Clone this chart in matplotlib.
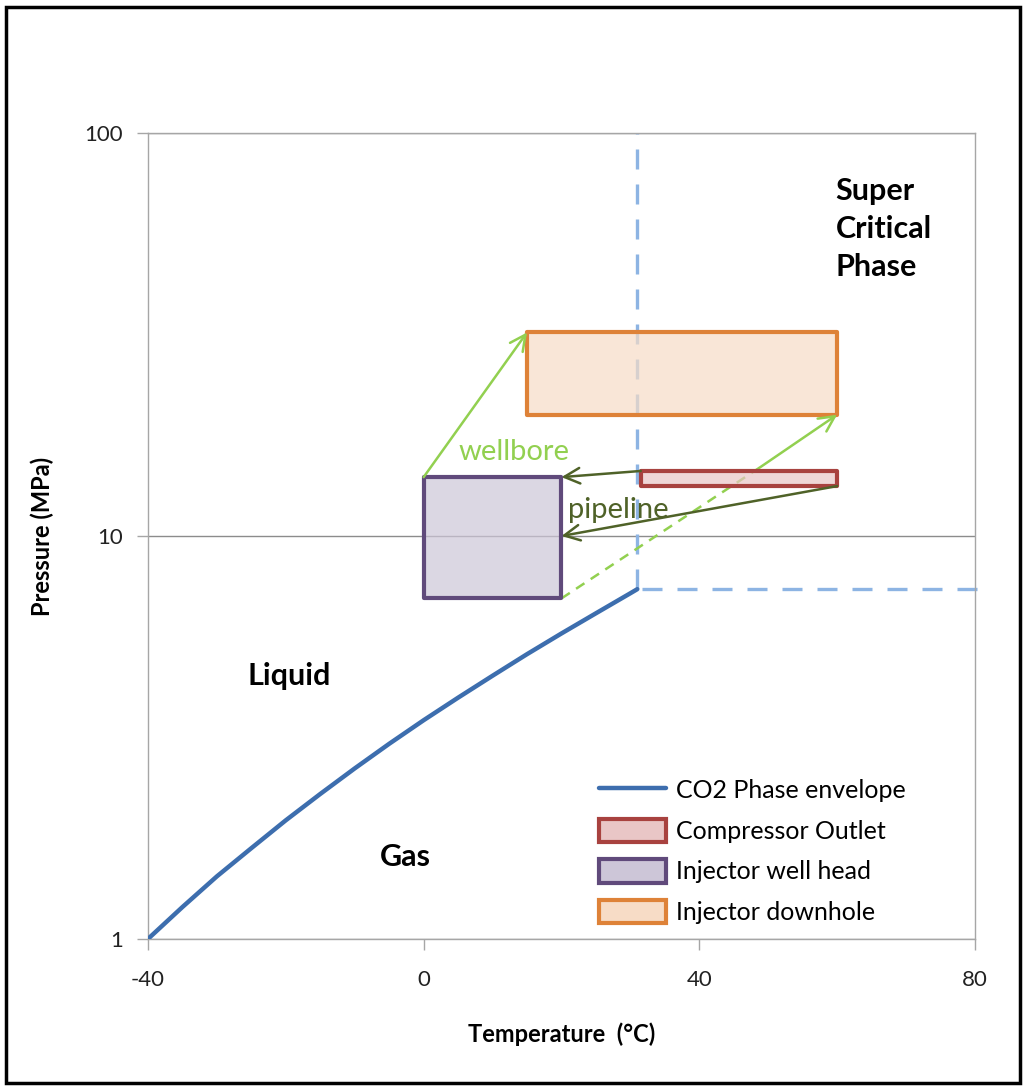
import matplotlib
matplotlib.use('Agg')
import matplotlib.pyplot as plt
from matplotlib.patches import Rectangle

plt.rcParams['font.family'] = ['Lato', 'DejaVu Sans']

# CO2 saturation curve up to the critical point
env_temp = [-40, -35, -30, -25, -20, -15, -10, -5, 0, 5, 10, 15, 20, 25, 30, 31]
env_pres = [1.0, 1.20, 1.43, 1.68, 1.97, 2.29, 2.65, 3.05, 3.49, 3.97, 4.50, 5.09, 5.73,
            6.43, 7.21, 7.38]
crit_temp = 31
crit_pres = 7.38

# operating windows: (T_min, T_max), (P_min, P_max)
box_names = ['Compressor Outlet', 'Injector well head', 'Injector downhole']
box_temp = [(31.5, 60), (0, 20), (15, 60)]
box_pres = [(13.3, 14.5), (7.0, 14.0), (20.0, 32.0)]
box_edge = ['#a8423f', '#604a7b', '#de8238']
box_fill = ['#e9c6c6', '#cdc6d8', '#f7dcc6']

x_ticks = [-40, 0, 40, 80]
y_ticks = [1, 10, 100]

fig = plt.figure(figsize=(10.29, 10.87), dpi=100)
ax = fig.add_axes([0.1438, 0.1362, 0.8037, 0.7414])
ax.set_yscale('log')
ax.set_xlim(-40, 80)
ax.set_ylim(1, 100)

for s in ax.spines.values():
    s.set_color('#a6a6a6')
    s.set_linewidth(1)
ax.set_xticks(x_ticks)
ax.set_xticklabels([str(t) for t in x_ticks])
ax.set_yticks(y_ticks)
ax.set_yticklabels([str(t) for t in y_ticks])
ax.minorticks_off()
ax.tick_params(axis='both', which='major', length=8, width=1, color='#a6a6a6',
               labelsize=16, labelcolor='#222222')
ax.tick_params(axis='x', pad=14)
ax.tick_params(axis='y', pad=10)
ax.yaxis.grid(True, color='#8c8c8c', linewidth=1)
ax.set_axisbelow(True)

ax.set_xlabel('Temperature  (°C)', fontsize=17, fontweight='bold', labelpad=24)
ax.set_ylabel('Pressure (MPa)', fontsize=17, fontweight='bold', labelpad=22)

# phase envelope and critical lines
env, = ax.plot(env_temp, env_pres, color='#3d6eae', lw=3.2, solid_capstyle='round',
               solid_joinstyle='round', label='CO2 Phase envelope', zorder=4)
ax.plot([crit_temp, crit_temp], [crit_pres, 100], color='#8db4e3', lw=2.4,
        dashes=(6, 4.5), zorder=2, clip_on=False)
ax.plot([crit_temp + 0.7, 81.5], [crit_pres, crit_pres], color='#8db4e3', lw=2.4,
        dashes=(6, 4.5), zorder=2, clip_on=False)

# operating boxes
patches = []
for name, (t0, t1), (p0, p1), ec, fc in zip(box_names, box_temp, box_pres, box_edge, box_fill):
    ax.add_patch(Rectangle((t0, p0), t1 - t0, p1 - p0, facecolor=fc, edgecolor='none',
                           alpha=0.7, zorder=3))
    ax.add_patch(Rectangle((t0, p0), t1 - t0, p1 - p0, edgecolor=ec, lw=3,
                           zorder=3.1, joinstyle='round', fill=False))
    patches.append(Rectangle((0, 0), 1, 1, facecolor=fc, edgecolor=ec, lw=3, label=name))

light_green = '#92d050'
dark_green = '#4f6228'
arrow = dict(arrowstyle='->', lw=1.8, mutation_scale=28, shrinkA=0, shrinkB=0)

# wellbore arrows
ax.annotate('', xy=(box_temp[2][0], box_pres[2][1]), xytext=(box_temp[1][0], box_pres[1][1]),
            arrowprops=dict(arrow, color=light_green), zorder=5)
mid = (48.8, 14.8)
ax.plot([box_temp[1][1], mid[0]], [box_pres[1][0], mid[1]], color=light_green, lw=1.8,
        dashes=(4, 3), zorder=2.5)
ax.annotate('', xy=(box_temp[2][1], box_pres[2][0]), xytext=mid,
            arrowprops=dict(arrow, color=light_green), zorder=5)

# pipeline arrows
ax.annotate('', xy=(box_temp[1][1], box_pres[1][1]), xytext=(box_temp[0][0], box_pres[0][1]),
            arrowprops=dict(arrow, color=dark_green), zorder=5)
ax.annotate('', xy=(box_temp[1][1], 10), xytext=(box_temp[0][1], box_pres[0][0]),
            arrowprops=dict(arrow, color=dark_green), zorder=5)

ax.text(5, 16.2, 'wellbore', color=light_green, fontsize=21, va='center', ha='left', zorder=6)
ax.text(21, 11.6, 'pipeline', color=dark_green, fontsize=21, va='center', ha='left', zorder=6)

# region labels
ax.text(59.8, 78, 'Super\nCritical\nPhase', fontsize=22, fontweight='bold', ha='left',
        va='top', linespacing=1.45)
ax.text(-25.6, 4.5, 'Liquid', fontsize=22, fontweight='bold', ha='left', va='center')
ax.text(-6.3, 1.6, 'Gas', fontsize=22, fontweight='bold', ha='left', va='center')

ax.legend(handles=[env] + patches, loc='upper left', bbox_to_anchor=(0.533, 0.212),
          frameon=False, fontsize=18, handlelength=2.7, handleheight=1.05,
          labelspacing=0.66, handletextpad=0.4, borderaxespad=0)

# outer frame
fig.patches.append(Rectangle((0.006, 0.004), 0.985, 0.99, transform=fig.transFigure,
                             fill=False, edgecolor='black', lw=2.5))

fig.savefig('out.png', dpi=100)
